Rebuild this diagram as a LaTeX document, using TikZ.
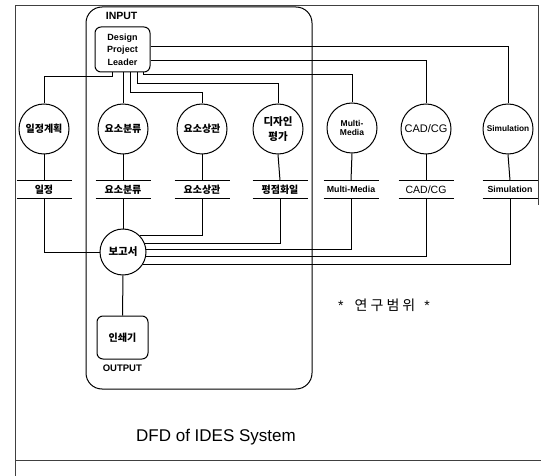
\documentclass[tikz,border=0pt]{standalone}
\usepackage{fontspec}
\setmainfont{Liberation Sans}
\newfontfamily\kr{Noto Sans CJK KR}
\usetikzlibrary{calc}
\begin{document}
\begin{tikzpicture}[x=1pt,y=-1pt,line width=1pt,
  proc/.style={circle,draw,minimum size=50pt,inner sep=0pt,align=center},
  storebox/.style={minimum width=54pt,minimum height=17pt,inner sep=0pt},
  ent/.style={draw,rounded corners=6pt,align=center,inner sep=0pt},
  krl/.style={font=\kr\bfseries\fontsize{10}{12}\selectfont},
  latl/.style={font=\bfseries\fontsize{8.8}{10}\selectfont},
  framel/.style={line width=0.6pt,black!75}]
\useasboundingbox (0,0) rectangle (541,476);
% outer frame of the scanned page
\draw[framel] (15,476) -- (15,5) -- (538,5) -- (538,205);
\draw[framel] (15,460) -- (541,460);
% INPUT / OUTPUT boundary
\draw[rounded corners=16pt] (86,7) rectangle (312,389);
\node[anchor=west,font=\bfseries\fontsize{10.5}{12}\selectfont] (inp) at (102,16) {INPUT};
\node[anchor=west,font=\bfseries\fontsize{9.5}{11}\selectfont] (outp) at (99,368) {OUTPUT};
% entities
\node[ent,minimum width=55pt,minimum height=45pt,font=\bfseries\fontsize{9}{12.5}\selectfont] (dpl) at (122.5,49.5) {Design\\Project\\Leader};
\node[ent,minimum width=51pt,minimum height=43pt,krl] (prn) at (122.5,337.5) {인쇄기};
% processes
\node[proc,krl] (c0) at (44,129) {일정계획};
\node[proc,krl] (c1) at (123,129) {요소분류};
\node[proc,krl] (c2) at (202,129) {요소상관};
\node[proc,font=\kr\bfseries\fontsize{10.5}{15}\selectfont] (c3) at (278,129) {디자인\\평가};
\node[proc,font=\bfseries\fontsize{8.5}{9}\selectfont] (c4) at (352,128) {Multi-\\Media};
\node[proc,font=\fontsize{11}{12}\selectfont] (c5) at (426,129) {CAD/CG};
\node[proc,font=\bfseries\fontsize{8.3}{9}\selectfont] (c6) at (508,129) {Simulation};
\node[proc,minimum size=46pt,font=\kr\bfseries\fontsize{10.5}{12}\selectfont] (rep) at (123,252) {보고서};
% data stores
\node[storebox,krl] (s0) at (44,189.5) {일정};
\node[storebox,krl] (s1) at (123,189.5) {요소분류};
\node[storebox,krl] (s2) at (202,189.5) {요소상관};
\node[storebox,krl] (s3) at (280,189.5) {평점화일};
\node[storebox,latl] (s4) at (351,189.5) {Multi-Media};
\node[storebox,font=\fontsize{10.5}{12}\selectfont] (s5) at (426,189.5) {CAD/CG};
\node[storebox,latl] (s6) at (510,189.5) {Simulation};
\foreach \s in {s0,s1,s2,s3,s4,s5,s6}
  \draw (\s.north west) -- (\s.north east) (\s.south west) -- (\s.south east);
% bend levels
\coordinate (h0) at (0,77);
\coordinate (h2) at (0,93);
\coordinate (h3) at (0,84);
\coordinate (h4) at (0,75);
% from Design Project Leader
\draw ([xshift=-10.5pt]dpl.south) |- (c0.north |- h0) -- (c0.north);
\draw (dpl.south -| c1.north) -- (c1.north);
\draw ([xshift=7.5pt]dpl.south) |- (c2.north |- h2) -- (c2.north);
\draw ([xshift=14.5pt]dpl.south) |- (c3.north |- h3) -- (c3.north);
\draw ([xshift=20.5pt]dpl.south) |- (c4.north |- h4) -- (c4.north);
\draw ([yshift=2.5pt]dpl.east) -| (c6.north);
\draw ([yshift=-11.5pt]dpl.east) -| (c5.north);
% processes to stores
\foreach \i in {0,...,6}
  \draw (c\i.south) -- (s\i.north);
% stores to report
\draw (s0.south) |- (rep.west);
\draw (s1.south) -- (rep.north);
\draw (s2.south) |- (rep.44);
\draw (s3.south) |- (rep.20);
\draw (s4.south) |- (rep.5);
\draw (s5.south) |- (rep.-12);
\draw (s6.south) |- (rep.-31);
\draw (rep.south) -- (prn.north);
% texts
\node[font=\fontsize{14}{16}\selectfont] (scope) at (384,305) {*\hspace{11pt}{\kr\addfontfeature{LetterSpace=22}연구범위}\hspace{9pt}*};
\node[font=\fontsize{17}{20}\selectfont] (title) at (216,437) {DFD of IDES System};
\end{tikzpicture}
\end{document}
